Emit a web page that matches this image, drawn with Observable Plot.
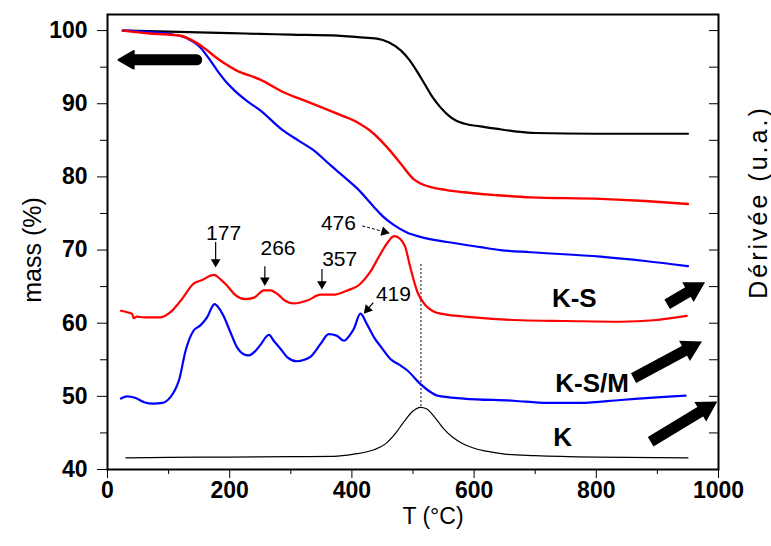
<!DOCTYPE html>
<html><head><meta charset="utf-8">
<script src="https://cdn.jsdelivr.net/npm/d3@7"></script>
<script src="https://cdn.jsdelivr.net/npm/@observablehq/plot@0.6"></script>
<style>body{margin:0;background:#fff;}</style>
</head><body><div id="chart"></div>
<script>
// ---- data (T in °C, value on the mass % scale) ----
const tgaK = [[25,100],[100,99.85],[200,99.65],[250,99.55],[300,99.45],[377,99.3],[410,99.1],[441,98.9],[460,98.4],[480,97.3],[494,96.0],[506,94.5],[519,92.7],[532,90.9],[545,89.5],[558,88.4],[570,87.7],[583,87.3],[610,86.9],[635,86.6],[670,86.2],[700,86.0],[800,85.9],[950,85.9]];
const tgaKS = [[25,100],[70,99.6],[120,99.3],[140,98.6],[160,97.5],[175,96.5],[190,95.6],[210,94.6],[250,93.3],[290,91.5],[330,90.2],[380,88.5],[410,87.4],[430,86.3],[457,84.1],[480,81.8],[501,79.7],[515,79.0],[529,78.6],[555,78.2],[583,77.9],[638,77.5],[692,77.2],[807,77.0],[880,76.7],[950,76.3]];
const tgaKSM = [[25,100],[70,99.8],[105,99.5],[131,98.9],[152,97.7],[165,96.3],[180,94.5],[195,92.9],[208,91.8],[228,90.4],[250,89.1],[285,86.5],[312,85.0],[338,83.6],[365,81.6],[390,79.8],[409,78.4],[436,75.9],[452,74.5],[469,73.4],[490,72.4],[512,71.8],[556,71.1],[610,70.4],[643,70.0],[692,69.7],[807,69.1],[880,68.5],[950,67.8]];
const dtgK = [[30,41.6],[100,41.65],[200,41.7],[300,41.75],[370,41.8],[403,42.1],[436,42.7],[455,43.5],[472,45.0],[485,46.5],[500,48.0],[512,48.5],[522,48.3],[535,47.2],[550,45.6],[565,44.4],[580,43.6],[600,42.9],[620,42.5],[650,42.1],[700,41.9],[800,41.7],[950,41.6]];
const dtgKS = [[22,61.7],[32,61.5],[40,61.3],[43,60.7],[48,60.9],[60,60.8],[87,60.8],[103,61.5],[120,63.1],[141,65.4],[155,65.9],[174,66.6],[185,66.0],[196,65.1],[210,63.8],[225,63.3],[240,63.5],[256,64.5],[267,64.5],[278,64.0],[290,63.1],[305,62.7],[327,63.1],[349,63.9],[370,63.9],[390,64.4],[414,65.4],[430,67.0],[447,69.5],[460,71.2],[469,71.9],[478,71.6],[487,70.5],[496,67.5],[507,64.3],[520,62.5],[545,61.3],[600,60.8],[676,60.4],[750,60.3],[840,60.2],[894,60.4],[948,61.0]];
const dtgKSM = [[22,49.7],[32,50.0],[45,49.8],[60,49.2],[75,49.0],[90,49.1],[103,49.9],[110,50.8],[117,52.2],[128,56.3],[141,59.0],[152,59.7],[163,60.8],[175,62.6],[183,62.0],[191,60.8],[200,59.0],[212,56.7],[222,55.8],[231,55.6],[242,56.2],[250,57.0],[264,58.4],[273,57.5],[283,56.5],[295,55.3],[310,54.8],[322,55.0],[332,55.4],[349,57.2],[362,58.5],[375,58.3],[387,57.6],[396,58.3],[403,59.2],[414,61.3],[425,59.8],[436,58.1],[450,56.5],[463,55.1],[478,54.3],[490,53.6],[512,51.7],[525,50.8],[540,50.1],[583,49.7],[665,49.4],[720,49.1],[774,49.1],[840,49.5],[905,49.9],[946,50.1]];

const xTicks = [0,200,400,600,800,1000];
const xMinorTicks = [100,300,500,700,900];
const yTicks = [40,50,60,70,80,90,100];
const yMinorTicks = [45,55,65,75,85,95];
const yRightTicks = [45,50,55,60,65,70,75,80,85,90,95,100];

const seriesNames = ["K-S","K-S/M","K"];
const seriesNameT = [764,793,745];
const seriesNameV = [63.4,51.8,44.4];

const peakTexts = ["177","266","357","476","419"];
const peakTextT = [190,279,380,378,468];
const peakTextV = [72.3,70.3,68.7,73.6,63.9];

const peakArrowFrom = [[177,71.1],[257.5,67.8],[351,67.4],[435,62.8]];
const peakArrowTo   = [[177,67.6],[257.5,65.1],[351,64.6],[419.5,61.3]];
const dashArrowFrom = [[417,73.3]];
const dashArrowTo   = [[462,72.3]];

const leftArrowFrom = [[146,96.0]];
const leftArrowTo   = [[18,96.0]];
const rightArrowFrom = [[916,62.6],[861,52.5],[889,43.8]];
const rightArrowTo   = [[978,65.6],[973,57.5],[998,49.3]];

const peakLineT = 513, peakLineV = [48.6,68.3];

// ---- layout ----
const W = 771, H = 546, mL = 107, mR = 53, mT = 14, mB = 77;
const xDomain = [0,1000], yDomain = [40,102.2];
const sx = d3.scaleLinear(xDomain, [mL, W - mR]);
const sy = d3.scaleLinear(yDomain, [H - mB, mT]);

function toRows(a) { return a.map(([T,v]) => ({T, v})); }
function arrowGeom(from, to, r) {
  return from.map((f, i) => {
    const t = to[i];
    const x1 = sx(f[0]), y1 = sy(f[1]), x2 = sx(t[0]), y2 = sy(t[1]);
    const len = Math.hypot(x2-x1, y2-y1), ux = (x2-x1)/len, uy = (y2-y1)/len;
    const a = 1.555 * r;
    const cx = x2 - ux*a, cy = y2 - uy*a;
    return {T1: f[0], v1: f[1], T2: sx.invert(cx), v2: sy.invert(cy),
            angle: Math.atan2(ux, -uy) * 180 / Math.PI};
  });
}
const peakArrows = arrowGeom(peakArrowFrom, peakArrowTo, 3.6);
const dashArrows = arrowGeom(dashArrowFrom, dashArrowTo, 3.6);
const leftArrows = arrowGeom(leftArrowFrom, leftArrowTo, 6.5);
const rightArrows = arrowGeom(rightArrowFrom, rightArrowTo, 8.5);

const nameRows = seriesNames.map((n,i) => ({n, T: seriesNameT[i], v: seriesNameV[i]}));
const peakRows = peakTexts.map((n,i) => ({n, T: peakTextT[i], v: peakTextV[i]}));

const lineOpts = (color, w) => ({x: "T", y: "v", stroke: color, strokeWidth: w, curve: "monotone-x"});
const empty = () => "";
const plain = d => String(d);

const chart = Plot.plot({
  width: W, height: H,
  marginLeft: mL, marginRight: mR, marginTop: mT, marginBottom: mB,
  x: {domain: xDomain},
  y: {domain: yDomain},
  style: {fontFamily: "'Liberation Sans', Arial, sans-serif", background: "white", color: "black"},
  marks: [
    Plot.axisY({anchor: "left", ticks: yTicks, tickSize: 10, tickPadding: 10, tickFormat: plain, fontSize: 23, fontWeight: "bold", label: null}),
    Plot.axisY({anchor: "left", ticks: yMinorTicks, tickSize: 7, tickFormat: empty, label: null}),
    Plot.axisY({anchor: "right", ticks: yRightTicks, tickSize: -10, tickFormat: empty, label: null}),
    Plot.axisX({anchor: "bottom", ticks: xTicks, tickSize: 9, tickPadding: 3, tickFormat: plain, fontSize: 23, fontWeight: "bold", label: null}),
    Plot.axisX({anchor: "bottom", ticks: xMinorTicks, tickSize: 5, tickFormat: empty, label: null}),
    Plot.frame({strokeWidth: 2}),
    Plot.ruleX([peakLineT], {x: d => d, y1: peakLineV[0], y2: peakLineV[1], stroke: "black", strokeWidth: 1, strokeDasharray: "2,2"}),
    Plot.line(toRows(dtgK), lineOpts("black", 1.2)),
    Plot.line(toRows(dtgKSM), lineOpts("#0000ff", 2.2)),
    Plot.line(toRows(dtgKS), lineOpts("#ff0000", 2.2)),
    Plot.line(toRows(tgaK), lineOpts("black", 2.2)),
    Plot.line(toRows(tgaKSM), lineOpts("#0000ff", 2.2)),
    Plot.line(toRows(tgaKS), lineOpts("#ff0000", 2.4)),
    // annotation arrows
    Plot.link(peakArrows, {x1: "T1", y1: "v1", x2: "T2", y2: "v2", stroke: "black", strokeWidth: 1.2}),
    Plot.dot(peakArrows, {x: "T2", y: "v2", symbol: "triangle", r: 3.6, rotate: "angle", fill: "black", stroke: null}),
    Plot.link(dashArrows, {x1: "T1", y1: "v1", x2: "T2", y2: "v2", stroke: "black", strokeWidth: 1, strokeDasharray: "3,2"}),
    Plot.dot(dashArrows, {x: "T2", y: "v2", symbol: "triangle", r: 3.6, rotate: "angle", fill: "black", stroke: null}),
    // big arrows
    Plot.link(leftArrows, {x1: "T1", y1: "v1", x2: "T2", y2: "v2", stroke: "black", strokeWidth: 11, strokeLinecap: "round"}),
    Plot.dot(leftArrows, {x: "T2", y: "v2", symbol: "triangle", r: 6.5, rotate: "angle", fill: "black", stroke: "black", strokeWidth: 2, strokeLinejoin: "round"}),
    Plot.link(rightArrows, {x1: "T1", y1: "v1", x2: "T2", y2: "v2", stroke: "black", strokeWidth: 11, strokeLinecap: "butt"}),
    Plot.dot(rightArrows, {x: "T2", y: "v2", symbol: "triangle", r: 8.5, rotate: "angle", fill: "black", stroke: null}),
    // texts
    Plot.text(peakRows, {x: "T", y: "v", text: "n", fontSize: 21, fill: "black"}),
    Plot.text(nameRows, {x: "T", y: "v", text: "n", fontSize: 26, fontWeight: "bold", fill: "black"}),
    Plot.text(["T (°C)"], {frameAnchor: "bottom", dy: 54, dx: 20, fontSize: 23, fill: "black"}),
    Plot.text(["mass (%)"], {frameAnchor: "left", textAnchor: "middle", rotate: -90, dx: -75, dy: 8, fontSize: 25, fill: "black"}),
    Plot.text(["Dérivée (u.a.)"], {frameAnchor: "right", textAnchor: "middle", rotate: -90, dx: 40, dy: -40, fontSize: 25, fill: "black"})
  ]
});
document.getElementById("chart").appendChild(chart);
d3.select(chart).selectAll("text").filter(function(){ return this.textContent === "Dérivée (u.a.)"; })
  .style("letter-spacing", "3px");
</script>
</body></html>
